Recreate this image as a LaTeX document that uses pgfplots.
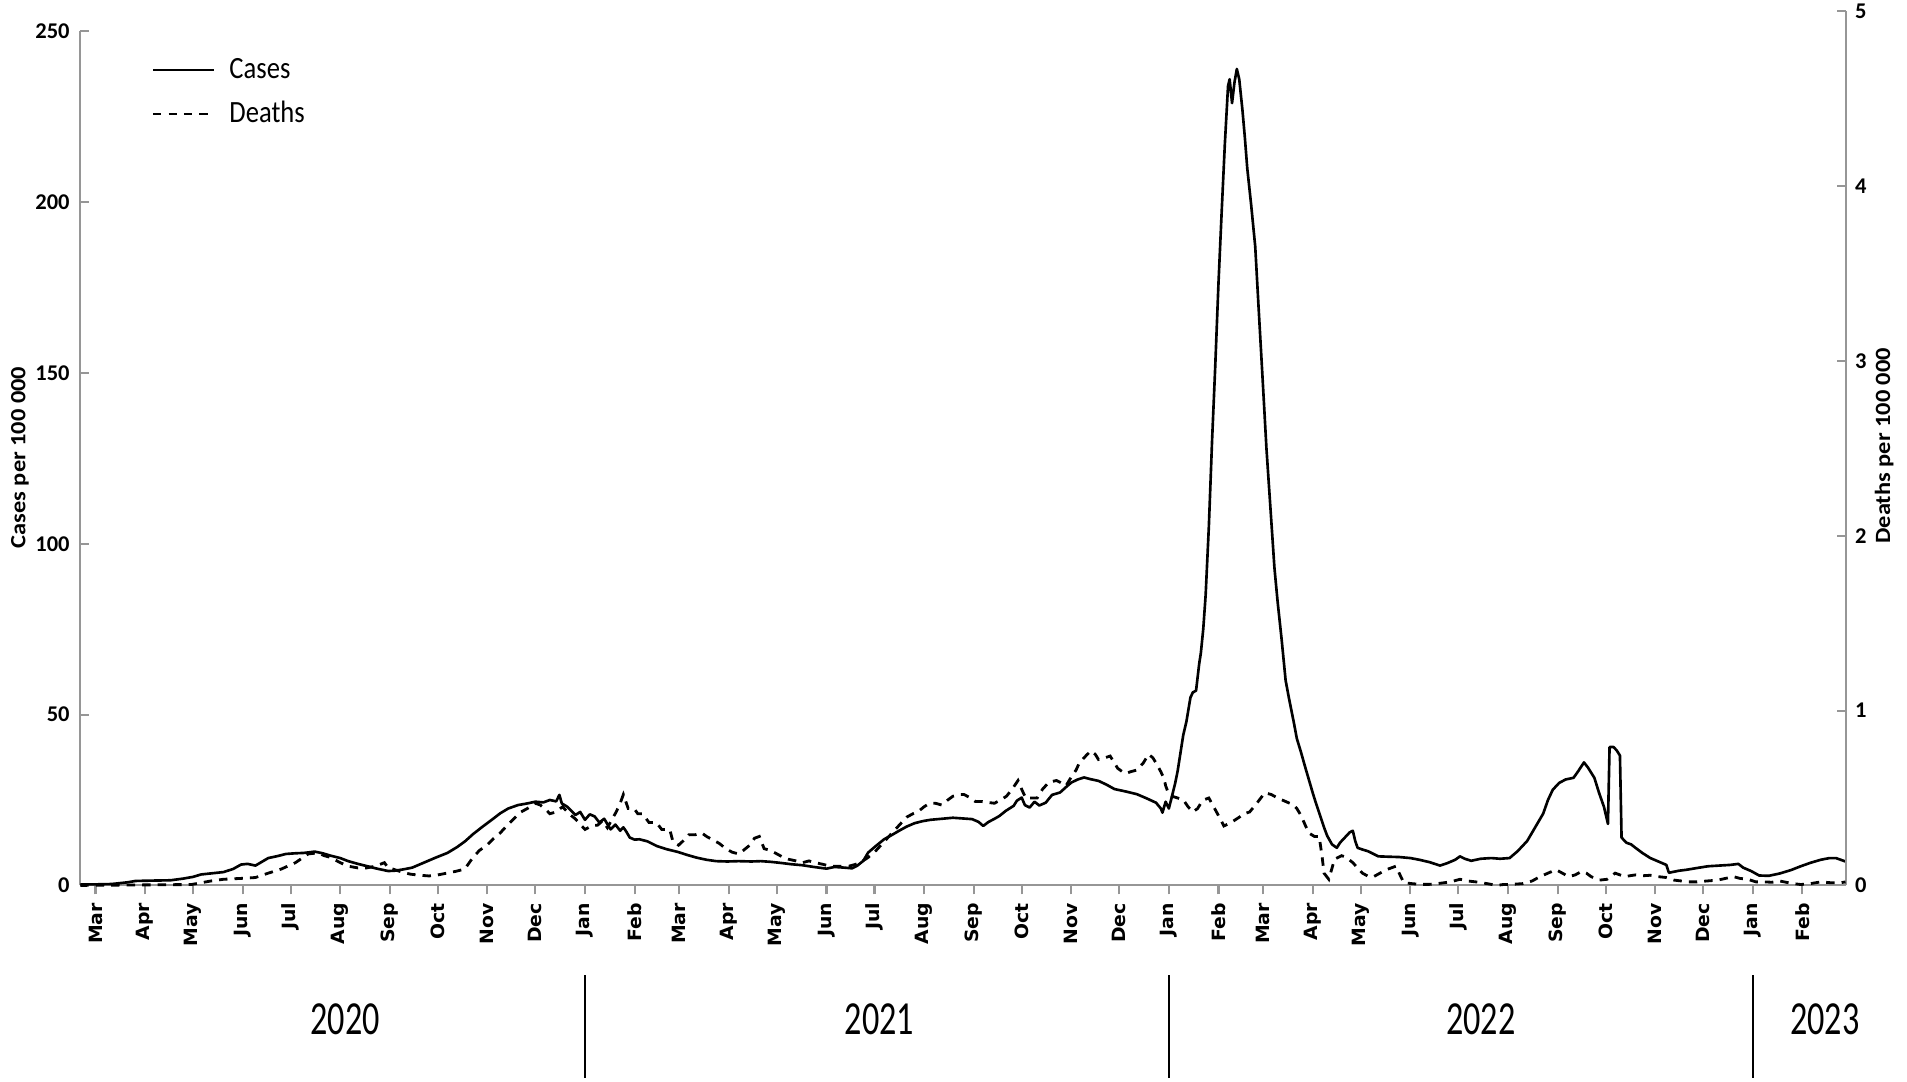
\documentclass[border=0pt]{standalone}
\usepackage{fontspec}
\setmainfont{Carlito}
\newfontfamily\monthfont[FakeStretch=1.03]{DejaVu Sans}
\newfontfamily\yearfont[FakeStretch=0.72]{Carlito}
\newfontfamily\legfont[FakeStretch=0.86]{Carlito}
\newfontfamily\labfont[FakeStretch=1.12]{Carlito}
\usepackage{pgfplots}
\pgfplotsset{compat=1.18}
\definecolor{axgray}{RGB}{150,150,150}

\pgfplotstableread{
day cases
-9.5 0.3
0 0.3
10 0.4
20 0.9
25 1.3
35 1.4
47 1.5
55 2
61 2.5
66 3.2
72 3.5
80 3.9
86 4.8
91 6.1
95 6.3
100 5.8
104 6.9
108 8
114 8.6
119 9.2
125 9.4
130 9.5
134 9.7
137 9.9
142 9.4
147 8.7
153 8.0
158 7.1
164 6.3
170 5.6
176 4.9
180 4.5
183 4.2
187 4.3
192 4.65
198 5.2
205 6.6
212 8
220 9.5
226 11.2
231 12.9
236 15
242 17.2
248 19.3
253 21.1
258 22.5
264 23.5
270 24
275 24.5
280 24.3
284 25
288 24.6
290 26.5
291.5 24
295 23
300 20.6
303 21.5
306 19.2
309 20.8
312 20.2
315 18.4
318 19.5
322 16.4
325 17.8
328 16.0
330 17
332 15.6
334 14
337 13.4
340 13.5
345 12.9
351 11.5
357 10.6
364 9.8
370 8.9
376 8.1
382 7.5
388 7.1
395 7.0
402 7.1
410 7.0
416 7.1
422 6.9
428 6.6
435 6.2
442 5.9
449 5.4
457 4.9
462 5.4
468 5.2
473 5.0
476 5.7
480 7.2
483 9.6
488 11.6
493 13.5
498 14.8
502 15.9
507 17.2
512 18.2
517 18.8
522 19.2
529 19.5
536 19.8
542 19.6
548 19.4
552 18.6
555 17.4
558 18.5
562 19.5
565 20.3
569 21.8
574 23.3
576 24.8
579 25.7
581 23.5
584 22.8
587 24.5
590 23.4
594 24.2
598 26.5
603 27.2
607 28.9
610 30.1
614 31
618 31.6
622 31.1
627 30.6
632 29.5
637 28.2
644 27.5
651 26.7
657 25.5
663 24.2
666 22.5
667 21.3
669 24.5
671 22.5
673 26.2
675 30
676.5 33.5
678 38
680 44
682 48
684.5 55
686 56.5
688 57
690 65
691 68
692.5 75
694 85
696 105
698 130
700 152
702 176
704 197
706 217
708 234
709 236
710.5 229
712 235
713.5 239
715 236
717 227
718.5 219
720 210
722.5 199
725 187
727 170
730 145
732 128
735 107
737 93
739 83
741.5 72
744 60
746 55
749 48
751 43
753.6 39
756 35
758.5 31
761 27
763 24
765.5 20.5
768 17
770 14.5
773 12
776 11
778 12.5
781 14
784 15.5
786 16
787.5 13
789 11
792 10.5
795.5 10
802 8.5
808 8.4
815 8.3
822 8
827.6 7.5
834 6.8
840.5 5.8
845 6.5
850 7.5
853 8.5
856 7.8
860 7.2
866 7.8
872.6 8
878 7.8
884 8
889 10
895 13
900 17
905 21
908 25
911 28
915 30
919 31
924 31.5
927 33.5
930.5 36
933 34.5
937 31.5
940 27
943 23
945.5 18
946.5 40.5
949 40.5
951 39.5
953 38
954 14
957 12.5
960 12
962.7 11
967 9.5
972 8
977 7
982 6
983.6 3.7
990 4.3
995 4.6
1000 5
1008 5.6
1015 5.8
1022 6
1027 6.3
1030 5.2
1035 4.2
1040 2.9
1046 2.8
1053 3.5
1060 4.5
1066 5.6
1072 6.6
1078.5 7.5
1084 8.0
1088 8
1094 7
}\casestable

\pgfplotstableread{
day deaths
-9.5 0
60 0.005
72 0.025
80 0.035
91 0.04
100 0.045
108 0.07
116 0.093
125 0.13
133 0.18
139 0.186
143 0.17
147 0.16
153 0.13
158 0.11
164 0.10
169.5 0.10
175 0.11
180.6 0.13
183 0.10
186 0.093
192 0.075
197 0.064
203 0.058
208.5 0.054
214 0.06
219.6 0.07
225 0.08
230.8 0.093
236 0.16
240 0.2
244.7 0.23
249 0.27
253 0.30
257 0.34
261.4 0.38
266 0.42
270 0.44
275 0.47
278 0.46
282 0.43
284 0.41
288 0.42
292 0.45
296 0.41
300 0.38
303 0.35
306 0.32
310 0.34
314 0.345
317 0.37
320 0.33
323 0.38
325.5 0.42
328 0.47
330 0.52
333 0.44
336.7 0.44
339 0.41
342 0.41
346 0.36
350.6 0.36
354 0.32
359 0.32
361 0.25
364.5 0.23
368 0.26
371 0.29
375 0.29
379 0.30
382 0.28
386 0.26
390 0.24
394 0.21
398 0.19
402 0.18
405 0.20
409 0.23
412 0.27
415 0.28
418 0.21
422 0.20
426 0.18
430 0.16
433 0.15
438 0.14
442 0.13
446 0.14
450 0.13
455 0.12
459 0.11
465 0.11
471 0.11
475 0.12
478 0.13
483 0.16
488 0.20
494 0.26
500 0.32
504 0.36
507 0.39
511 0.41
514 0.42
518 0.45
521.5 0.47
525 0.47
529 0.46
533 0.49
536 0.51
540 0.52
543 0.52
547 0.50
550 0.48
554 0.48
557.5 0.475
562 0.47
566 0.49
569.5 0.51
573 0.55
576.7 0.60
579 0.55
581.5 0.50
585 0.50
588.7 0.50
592 0.55
596 0.59
600.7 0.60
603 0.59
606.7 0.57
610 0.62
613 0.66
615 0.70
619 0.74
622.3 0.77
625 0.75
627 0.72
631 0.73
634.3 0.74
637 0.70
639 0.67
642 0.65
644 0.64
647 0.65
651 0.66
655 0.70
658.3 0.75
661 0.73
663 0.70
666 0.65
668 0.61
669 0.57
671 0.52
673 0.51
676.5 0.50
680 0.49
683 0.45
686 0.42
689 0.44
691 0.47
693 0.49
696 0.50
699 0.45
702 0.40
705.4 0.34
710 0.36
715 0.39
718 0.41
721.5 0.42
726 0.47
731 0.53
735 0.52
739 0.50
744 0.48
749 0.46
751 0.44
753.6 0.40
756 0.35
758.5 0.30
762 0.28
765 0.28
767 0.15
768 0.07
771 0.035
774.6 0.15
779 0.17
782 0.16
786 0.13
789 0.10
792 0.07
796 0.05
799 0.05
803 0.07
807 0.09
810 0.10
813 0.11
816 0.05
818 0.015
823 0.01
827.6 0.006
834 0.006
840.5 0.012
847 0.02
853 0.035
858 0.025
863 0.02
870 0.01
876 0.0
880 0.005
885.5 0.006
892 0.01
898 0.025
903 0.05
908 0.07
913 0.09
917 0.07
921 0.05
925 0.06
929 0.08
932 0.07
935 0.05
940 0.03
945 0.035
950 0.07
953 0.06
956 0.05
959 0.055
962.7 0.06
967 0.055
972 0.058
977 0.05
982 0.045
987 0.03
991.6 0.025
996 0.02
1001 0.02
1007 0.025
1014 0.03
1019 0.04
1024 0.05
1028 0.04
1033 0.035
1038 0.02
1043 0.02
1048 0.018
1053 0.025
1060 0.012
1066 0.005
1072 0.01
1078.5 0.02
1085 0.015
1091 0.015
1094 0.02
}\deathstable

\begin{document}
\begin{tikzpicture}
\useasboundingbox (0,0) rectangle (190.7mm,108.2mm);
\begin{axis}[
  at={(8.03mm,19.66mm)}, anchor=south west,
  scale only axis, width=176.6mm, height=85.4mm,
  xmin=-9.5, xmax=1094.5, ymin=0, ymax=250,
  axis x line*=bottom, axis y line*=left,
  axis line style={draw=axgray, line width=0.6pt},
  tick align=inside, major tick length=0.9mm,
  tick style={draw=axgray, line width=0.6pt},
  xtick style={yshift=-0.9mm},
  xtick={0,31,61,92,122,153,184,214,245,275,306,337,365,396,426,457,487,518,549,579,610,640,671,702,730,761,791,822,852,883,914,944,975,1005,1036,1067},
  xticklabels={Mar,Apr,May,Jun,Jul,Aug,Sep,Oct,Nov,Dec,Jan,Feb,Mar,Apr,May,Jun,Jul,Aug,Sep,Oct,Nov,Dec,Jan,Feb,Mar,Apr,May,Jun,Jul,Aug,Sep,Oct,Nov,Dec,Jan,Feb},
  xticklabel style={rotate=90, anchor=east, inner sep=0pt, font=\fontsize{5.2}{5.5}\selectfont\monthfont\bfseries},
  xticklabel shift=1.7mm,
  ytick={0,50,100,150,200,250},
  yticklabel style={inner sep=0pt, font=\fontsize{6.4}{7}\selectfont\bfseries},
  yticklabel shift=1mm,
  /pgf/number format/assume math mode=true,
  ylabel={Cases per 100 000},
  every axis y label/.style={at={(axis description cs:-0.0342,0.501)}, rotate=90, anchor=center, font=\fontsize{6.2}{7}\selectfont\labfont\bfseries},
  clip=false,
  legend cell align=left,
  legend style={draw=none, fill=none, at={(0.04,0.972)}, anchor=north west, inner sep=0pt,
    row sep=1.6mm, column sep=1.4mm,
    nodes={inner sep=0pt, text height=2.2mm, text depth=0.6mm},
    font=\fontsize{8.8}{9}\selectfont\legfont},
  legend image code/.code={\draw[#1] (0mm,0mm) -- (6.1mm,0mm);},
]
\addplot[black, line width=0.75pt, line join=round] table[x=day, y=cases] {\casestable};
\addlegendentry{Cases}
\addlegendimage{black, line width=0.8pt, dash pattern=on 2.4pt off 2pt}
\addlegendentry{Deaths}
% year separators and labels
\draw[black, line width=0.7pt] ([yshift=-9.0mm]axis cs:306,0) -- ([yshift=-19.3mm]axis cs:306,0);
\draw[black, line width=0.7pt] ([yshift=-9.0mm]axis cs:671,0) -- ([yshift=-19.3mm]axis cs:671,0);
\draw[black, line width=0.7pt] ([yshift=-9.0mm]axis cs:1036,0) -- ([yshift=-19.3mm]axis cs:1036,0);
\node[font=\fontsize{13.5}{14}\selectfont\yearfont, inner sep=0pt] at ([yshift=-13.36mm]axis cs:156,0) {2020};
\node[font=\fontsize{13.5}{14}\selectfont\yearfont, inner sep=0pt] at ([yshift=-13.36mm]axis cs:490,0) {2021};
\node[font=\fontsize{13.5}{14}\selectfont\yearfont, inner sep=0pt] at ([yshift=-13.36mm]axis cs:866,0) {2022};
\node[font=\fontsize{13.5}{14}\selectfont\yearfont, inner sep=0pt] at ([yshift=-13.36mm]axis cs:1081,0) {2023};
\end{axis}
\begin{axis}[
  at={(8.03mm,19.66mm)}, anchor=south west,
  scale only axis, width=176.6mm, height=87.4mm,
  xmin=-9.5, xmax=1094.5, ymin=0, ymax=5,
  axis x line=none, axis y line*=right,
  axis line style={draw=axgray, line width=0.6pt},
  tick align=inside, major tick length=0.9mm,
  tick style={draw=axgray, line width=0.6pt},
  ytick={0,1,2,3,4,5},
  yticklabel style={inner sep=0pt, font=\fontsize{6.4}{7}\selectfont\bfseries},
  yticklabel shift=0.8mm,
  /pgf/number format/assume math mode=true,
  ylabel={Deaths per 100 000},
  every axis y label/.style={at={(axis description cs:1.0215,0.503)}, rotate=90, anchor=center, font=\fontsize{6.2}{7}\selectfont\labfont\bfseries},
  clip=false,
]
\addplot[black, line width=0.8pt, dash pattern=on 2.4pt off 2pt] table[x=day, y=deaths] {\deathstable};
\end{axis}
\end{tikzpicture}
\end{document}
